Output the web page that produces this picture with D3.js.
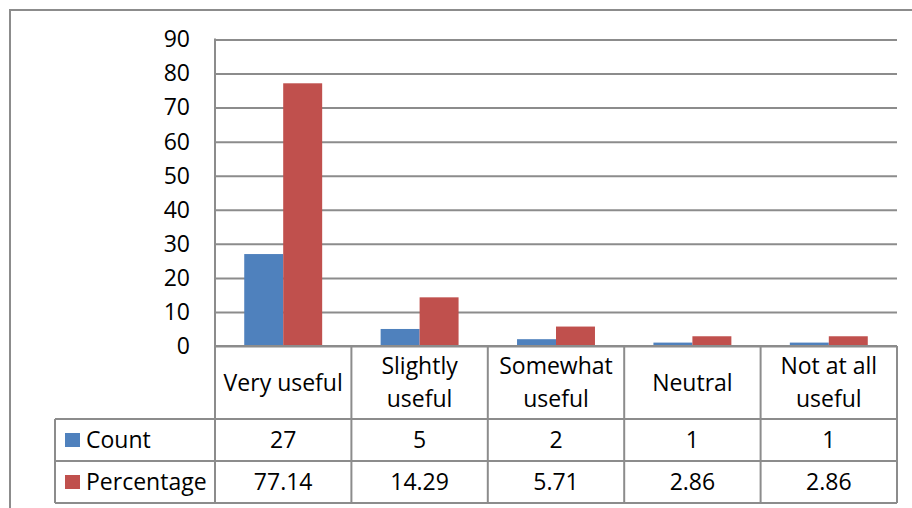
<!DOCTYPE html>
<html>
<head>
<meta charset="utf-8">
<script src="https://cdn.jsdelivr.net/npm/d3@7"></script>
<style>
  html, body { margin: 0; padding: 0; background: #fff; }
  svg { display: block; }
  text { font-family: "Open Sans", Lato, sans-serif; fill: #000; }
</style>
</head>
<body>
<svg id="chart" width="912" height="508"></svg>
<script>
// Categories (each label split into its display lines)
const categories = ["Very useful", "Slightly useful", "Somewhat useful", "Neutral", "Not at all useful"];
const categoryLines = [["Very useful"], ["Slightly", "useful"], ["Somewhat", "useful"], ["Neutral"], ["Not at all", "useful"]];

// Series
const seriesNames = ["Count", "Percentage"];
const countValues = [27, 5, 2, 1, 1];
const percentageValues = [77.14, 14.29, 5.71, 2.86, 2.86];
const seriesColors = ["#4F81BD", "#C0504D"];

// Y axis ticks
const yTicks = [0, 10, 20, 30, 40, 50, 60, 70, 80, 90];

const seriesValues = [countValues, percentageValues];
const grid = "#8c8c8c";
const fontSize = 23;
const fontFamily = "'Open Sans', Lato, sans-serif";

const svg = d3.select("#chart");

// Outer chart frame (top and left edges visible)
svg.append("path")
  .attr("d", "M10,508 V10 H912")
  .attr("fill", "none").attr("stroke", grid).attr("stroke-width", 2);

const plot = { left: 215, right: 897, top: 39.5, bottom: 346 };
const table = { left: 55, headerBottom: 419, row1Bottom: 461, row2Bottom: 503 };

const x = d3.scaleBand().domain(categories).range([plot.left, plot.right]);
const xs = d3.scaleBand().domain(seriesNames).range([0, x.bandwidth()]).paddingInner(0).paddingOuter(0.75);
const y = d3.scaleLinear().domain([0, 90]).range([plot.bottom, plot.top]);

// Y axis with gridlines
const yAxis = d3.axisLeft(y).tickValues(yTicks)
  .tickSizeInner(-(plot.right - plot.left)).tickSizeOuter(0).tickPadding(25);
const gy = svg.append("g").attr("transform", `translate(${plot.left},0)`).call(yAxis);
gy.select(".domain").remove();
gy.selectAll(".tick line").attr("stroke", grid).attr("stroke-width", 2);
gy.selectAll(".tick text").attr("font-size", fontSize).attr("fill", "#000")
  .style("font-family", fontFamily);

// Vertical axis line
svg.append("line")
  .attr("x1", plot.left).attr("x2", plot.left)
  .attr("y1", plot.top - 1).attr("y2", plot.bottom)
  .attr("stroke", grid).attr("stroke-width", 2);

// Bars
seriesNames.forEach((s, si) => {
  svg.append("g").selectAll("rect")
    .data(categories.map((c, i) => ({ c, v: seriesValues[si][i] })))
    .join("rect")
    .attr("x", d => x(d.c) + xs(s))
    .attr("width", xs.bandwidth())
    .attr("y", d => y(d.v))
    .attr("height", d => y(0) - y(d.v))
    .attr("fill", seriesColors[si]);
});

// Data table lines
const tbl = svg.append("g").attr("stroke", grid).attr("stroke-width", 2).attr("fill", "none");
tbl.append("line").attr("x1", plot.left).attr("x2", plot.right).attr("y1", plot.bottom).attr("y2", plot.bottom);
[table.headerBottom, table.row1Bottom, table.row2Bottom].forEach(yy => {
  tbl.append("line").attr("x1", table.left).attr("x2", plot.right).attr("y1", yy).attr("y2", yy);
});
tbl.append("line").attr("x1", table.left).attr("x2", table.left).attr("y1", table.headerBottom).attr("y2", table.row2Bottom);
categories.forEach(c => {
  tbl.append("line").attr("x1", x(c)).attr("x2", x(c)).attr("y1", plot.bottom).attr("y2", table.row2Bottom);
});
tbl.append("line").attr("x1", plot.right).attr("x2", plot.right).attr("y1", plot.bottom).attr("y2", table.row2Bottom);

// Category header labels
const lineGap = 33;
categories.forEach((c, i) => {
  const lines = categoryLines[i];
  const cy = (plot.bottom + table.headerBottom) / 2;
  const t = svg.append("text")
    .attr("x", x(c) + x.bandwidth() / 2)
    .attr("text-anchor", "middle")
    .attr("font-size", fontSize);
  lines.forEach((ln, k) => {
    t.append("tspan")
      .attr("x", x(c) + x.bandwidth() / 2)
      .attr("y", cy + (k - (lines.length - 1) / 2) * lineGap)
      .attr("dy", "0.35em")
      .text(ln);
  });
});

// Table rows: legend key + values
const rowBounds = [[table.headerBottom, table.row1Bottom], [table.row1Bottom, table.row2Bottom]];
seriesNames.forEach((s, si) => {
  const cy = (rowBounds[si][0] + rowBounds[si][1]) / 2;
  svg.append("rect")
    .attr("x", 65).attr("y", cy - 7).attr("width", 15).attr("height", 14)
    .attr("fill", seriesColors[si]);
  svg.append("text")
    .attr("x", 86).attr("y", cy).attr("dy", "0.35em")
    .attr("font-size", fontSize).text(s);
  categories.forEach((c, i) => {
    svg.append("text")
      .attr("x", x(c) + x.bandwidth() / 2).attr("y", cy).attr("dy", "0.35em")
      .attr("text-anchor", "middle").attr("font-size", fontSize)
      .text(seriesValues[si][i]);
  });
});
</script>
</body>
</html>
